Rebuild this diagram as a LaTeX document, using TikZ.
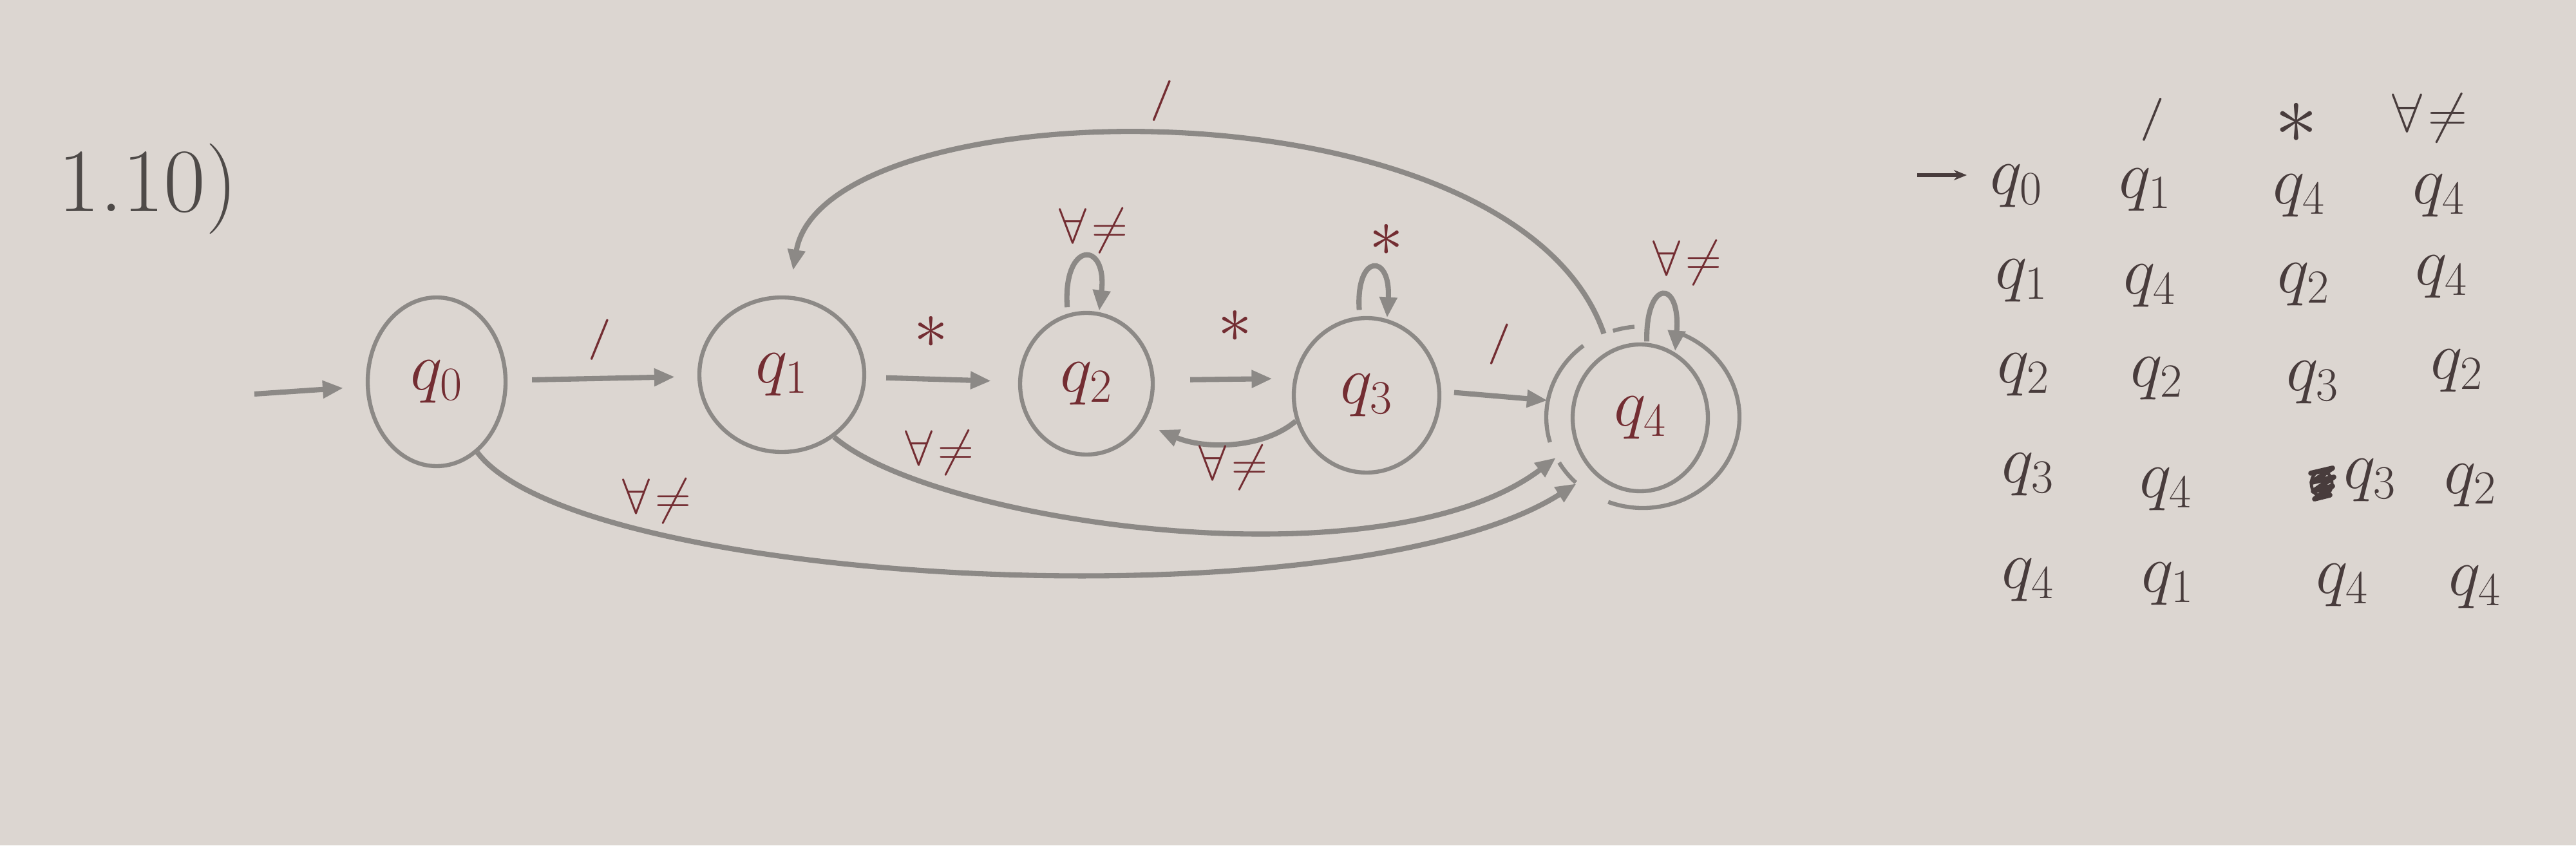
\documentclass[tikz,border=0pt]{standalone}
\usepackage{fix-cm}
\usetikzlibrary{arrows.meta,shapes.geometric}
\definecolor{paper}{RGB}{220,214,209}
\definecolor{pencil}{RGB}{140,137,134}
\definecolor{ink}{RGB}{115,45,50}
\definecolor{tink}{RGB}{72,60,60}
\definecolor{title}{RGB}{78,74,72}
\tikzset{
  stt/.style={ellipse,draw=pencil,line width=1.8pt,inner sep=0pt,text=ink,font=\fontsize{30}{36}\selectfont},
  ring/.style={ellipse,draw=none,inner sep=0pt},
  edge/.style={draw=pencil,line width=2.3pt,-{Triangle[length=0.32cm,width=0.26cm]}},
  lbl/.style={text=ink,font=\fontsize{22}{26}\selectfont,inner sep=0pt},
  star/.style={text=ink,font=\fontsize{30}{34}\selectfont,inner sep=0pt},
  slash/.style={text=ink,font=\fontsize{18}{20}\selectfont\bfseries,inner sep=0pt},
  cell/.style={text=tink,font=\fontsize{30}{36}\selectfont,inner sep=0pt},
  hdr/.style={text=tink,font=\fontsize{24}{28}\selectfont,inner sep=0pt},
  hstar/.style={text=tink,font=\fontsize{38}{40}\selectfont,inner sep=0pt},
  hslash/.style={text=tink,font=\fontsize{19}{21}\selectfont\bfseries,inner sep=0pt}
}
\begin{document}
\begin{tikzpicture}[x=1cm,y=1cm]
\fill[paper] (0,0) rectangle (40,13.13);
\useasboundingbox (0,0) rectangle (40,13.13);

% title
\node[text=title,font=\fontsize{40}{44}\selectfont,inner sep=0pt] (title) at (2.30,10.2) {1.10)};

% states
\node[stt,minimum width=2.14cm,minimum height=2.62cm] (q0) at (6.78,7.20) {$q_0$};
\node[stt,minimum width=2.56cm,minimum height=2.40cm] (q1) at (12.14,7.31) {$q_1$};
\node[stt,minimum width=2.06cm,minimum height=2.20cm] (q2) at (16.87,7.17) {$q_2$};
\node[stt,minimum width=2.26cm,minimum height=2.40cm] (q3) at (21.22,6.99) {$q_3$};
\node[stt,minimum width=2.10cm,minimum height=2.28cm] (q4) at (25.47,6.64) {$q_4$};
\node[ring,minimum width=3.0cm,minimum height=2.82cm] (q4o) at (25.51,6.65) {};
% outer ring of accepting state, drawn in pieces
\begin{scope}[draw=pencil,line width=1.8pt]
\draw ([shift={(-111:1.5 and 1.41)}]q4o.center) arc[start angle=-111,end angle=68,x radius=1.5,y radius=1.41];
\draw ([shift={(128:1.5 and 1.41)}]q4o.center) arc[start angle=128,end angle=196,x radius=1.5,y radius=1.41];
\draw ([shift={(210:1.5 and 1.41)}]q4o.center) arc[start angle=210,end angle=226,x radius=1.5,y radius=1.41];
\draw ([shift={(95:1.5 and 1.41)}]q4o.center) arc[start angle=95,end angle=108,x radius=1.5,y radius=1.41];
\end{scope}

% initial arrow
\coordinate (init) at (3.95,7.01);
\draw[edge,shorten >=0.35cm] (init) -- (q0);

% straight transitions
\draw[edge,shorten <=0.38cm,shorten >=0.35cm] (q0) -- (q1);
\node[slash] (l01) at (9.31,7.85) {/};
\draw[edge,shorten <=0.31cm,shorten >=0.42cm] (q1) -- (q2);
\node[star] (l12) at (14.46,7.97) {$\ast$};
\draw[edge,shorten <=0.55cm,shorten >=0.33cm] (q2.3) -- (q3.167);
\node[star] (l23) at (19.18,8.06) {$\ast$};
\draw[edge,shorten <=0.2cm] (q3.3) -- (q4o.170);
\node[slash] (l34) at (23.28,7.78) {/};

% q3 -> q2 back
\draw[edge,shorten >=0.25cm] (q3.200) .. controls (19.6,6.15) and (18.7,6.15) .. (q2.-35);
\node[lbl] (l32) at (19.15,5.87) {$\forall\!\neq$};

% q1 -> q4 lower
\draw[edge] (q1.-50) .. controls (14.5,5.0) and (21.5,4.0) .. (q4o.205);
\node[lbl] (l14) at (14.59,6.10) {$\forall\!\neq$};

% q0 -> q4 lowest
\draw[edge] (q0.-60) .. controls (9.0,4.0) and (21.0,3.4) .. (q4o.225);
\node[lbl] (l04) at (10.20,5.35) {$\forall\!\neq$};

% q4 -> q1 big arc
\draw[edge,shorten >=0.4cm] (q4o.115) .. controls (23.5,12.0) and (12.8,11.8) .. (q1.85);
\node[slash] (l41) at (18.04,11.56) {/};

% self loops
\draw[edge,shorten <=0.1cm,shorten >=0.02cm] (q2.105) .. controls (16.5,9.4) and (17.2,9.4) .. (q2.80);
\node[lbl] (l22) at (16.98,9.55) {$\forall\!\neq$};
\draw[edge,shorten <=0.1cm,shorten >=0.02cm] (q3.95) .. controls (21.05,9.2) and (21.6,9.2) .. (q3.75);
\node[star] (l33) at (21.53,9.40) {$\ast$};
\draw[edge,shorten <=0.02cm,shorten >=0.02cm] (q4.85) .. controls (25.55,8.8) and (26.1,8.8) .. (q4.62);
\node[lbl] (l44) at (26.20,9.05) {$\forall\!\neq$};

% transition table
\node[hslash] (h1) at (33.42,11.27) {/};
\node[hstar] (h2) at (35.66,11.22) {$\ast$};
\node[hdr] (h3) at (37.73,11.30) {$\forall\!\neq$};

\coordinate (tinit) at (29.77,10.41);
\coordinate (tinitb) at (30.54,10.41);
\draw[draw=tink,line width=1.6pt,-{Stealth[length=0.2cm,width=0.16cm]}] (tinit) -- (tinitb);

\node[cell] (r0a) at (31.31,10.24) {$q_0$};
\node[cell] (r0b) at (33.31,10.18) {$q_1$};
\node[cell] (r0c) at (35.70,10.09) {$q_4$};
\node[cell] (r0d) at (37.87,10.09) {$q_4$};

\node[cell] (r1a) at (31.39,8.77) {$q_1$};
\node[cell] (r1b) at (33.38,8.69) {$q_4$};
\node[cell] (r1c) at (35.77,8.71) {$q_2$};
\node[cell] (r1d) at (37.91,8.83) {$q_4$};

\node[cell] (r2a) at (31.42,7.31) {$q_2$};
\node[cell] (r2b) at (33.49,7.25) {$q_2$};
\node[cell] (r2c) at (35.91,7.19) {$q_3$};
\node[cell] (r2d) at (38.15,7.37) {$q_2$};

\node[cell] (r3a) at (31.49,5.76) {$q_3$};
\node[cell] (r3b) at (33.63,5.53) {$q_4$};
\node[cell] (r3c) at (36.80,5.67) {$q_3$};
\node[cell] (r3d) at (38.36,5.59) {$q_2$};
% scribbled-out entry
\draw[tink,line width=2.2pt,line cap=round,line join=round]
  (35.88,5.78) -- (36.22,5.86) -- (35.90,5.64) -- (36.24,5.72) -- (35.92,5.50) -- (36.22,5.58) -- (35.94,5.38) -- (36.18,5.44);
\draw[tink,line width=1.4pt] (36.05,5.62) circle[x radius=0.16,y radius=0.2];

\node[cell] (r4a) at (31.49,4.12) {$q_4$};
\node[cell] (r4b) at (33.66,4.06) {$q_1$};
\node[cell] (r4c) at (36.37,4.04) {$q_4$};
\node[cell] (r4d) at (38.43,4.01) {$q_4$};
\end{tikzpicture}
\end{document}
